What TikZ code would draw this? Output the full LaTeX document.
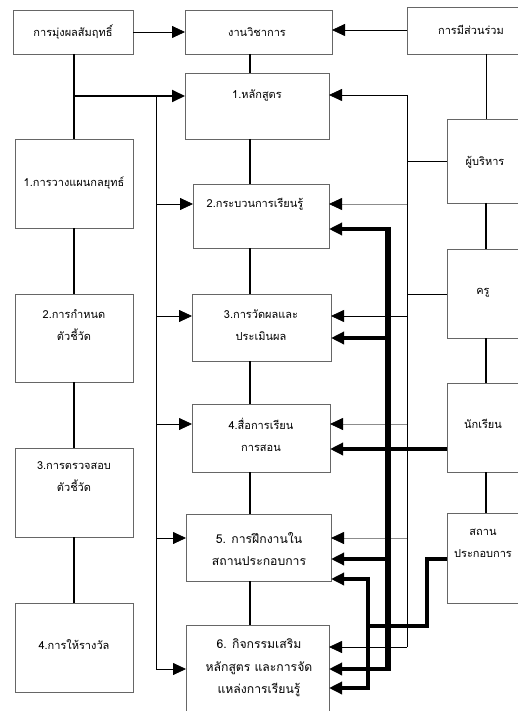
\documentclass[tikz,border=0pt]{standalone}
\usepackage{fontspec}
\newfontfamily\thaifont[Script=Thai]{Loma}
\usetikzlibrary{arrows.meta}
\begin{document}
\begin{tikzpicture}[x=1pt,y=-1pt,
  box/.style={draw=black!60, line width=0.8pt, anchor=north west, inner sep=0pt, outer sep=0pt},
  txt/.style={font=\thaifont\fontsize{11}{22}\selectfont, align=center, inner sep=0pt},
  bigtxt/.style={font=\thaifont\fontsize{12.2}{22.5}\selectfont, align=center, inner sep=0pt},
  tip/.style={-{Triangle[length=13pt,width=12pt,color=black]}},
  thinln/.style={line width=0.8pt},
  grayln/.style={line width=0.8pt, draw=black!45},
  midln/.style={line width=1.8pt},
  busln/.style={line width=5.5pt},
  heavyln/.style={line width=4.5pt},
]
\useasboundingbox (0,0) rectangle (518,711);
\clip (0,0) rectangle (518,711);

% boxes
\node[box, minimum width=120pt, minimum height=44pt] (A) at (13,10) {};
\node[box, minimum width=147pt, minimum height=44pt] (B) at (185,10) {};
\node[box, minimum width=128pt, minimum height=47pt] (C) at (407,7) {};
\node[box, minimum width=118pt, minimum height=89pt] (L1) at (15,139) {};
\node[box, minimum width=118pt, minimum height=88pt] (L2) at (15,294) {};
\node[box, minimum width=118pt, minimum height=89pt] (L3) at (15,448) {};
\node[box, minimum width=118pt, minimum height=89pt] (L4) at (15,603) {};
\node[box, minimum width=144pt, minimum height=66pt] (M1) at (185,73) {};
\node[box, minimum width=136pt, minimum height=64pt] (M2) at (193,184) {};
\node[box, minimum width=139pt, minimum height=67pt] (M3) at (192,294) {};
\node[box, minimum width=138pt, minimum height=68pt] (M4) at (192,404) {};
\node[box, minimum width=145pt, minimum height=67pt] (M5) at (186,514) {};
\node[box, minimum width=143pt, minimum height=100pt] (M6) at (186,625) {};
\node[box, minimum width=80pt, minimum height=84pt] (R1) at (447,119) {};
\node[box, minimum width=80pt, minimum height=89pt] (R2) at (447,249) {};
\node[box, minimum width=80pt, minimum height=89pt] (R3) at (447,383) {};
\node[box, minimum width=80pt, minimum height=90pt] (R4) at (447,513) {};

% texts
\node[txt] (tA) at (73,32) {การมุ่งผลสัมฤทธิ์};
\node[txt] (tB) at (257,32) {งานวิชาการ};
\node[txt] (tC) at (471,30) {การมีส่วนร่วม};
\node[txt] (tL1) at (74,183) {1.การวางแผนกลยุทธ์};
\node[txt] (tL2) at (74,325) {2.การกำหนด\\ตัวชี้วัด};
\node[txt] (tL3) at (74,477) {3.การตรวจสอบ\\ตัวชี้วัด};
\node[txt] (tL4) at (74,645) {4.การให้รางวัล};
\node[txt] (tM1) at (257,96) {1.หลักสูตร};
\node[txt] (tM2) at (255,204) {2.กระบวนการเรียนรู้};
\node[txt] (tM3) at (261,325) {3.การวัดผลและ\\ประเมินผล};
\node[txt] (tM4) at (261,435) {4.สื่อการเรียน\\การสอน};
\node[bigtxt] (tM5) at (259,549) {5. การฝึกงานใน\\สถานประกอบการ};
\node[bigtxt] (tM6) at (259,668) {6. กิจกรรมเสริม\\หลักสูตร และการจัด\\แหล่งการเรียนรู้};
\node[txt] (tR1) at (485,162) {ผู้บริหาร};
\node[txt] (tR2) at (483,293) {ครู};
\node[txt] (tR3) at (483,424) {นักเรียน};
\node[txt] (tR4) at (483,543) {สถาน\\ประกอบการ};

% helper coordinates
\coordinate (lx) at (74,0);
\coordinate (vx) at (250,0);
\coordinate (rx) at (486,0);
\coordinate (lb) at (156,0);
\coordinate (tb) at (407,0);
\coordinate (hb) at (388,0);
\coordinate (sb) at (368,0);

% top arrows
\draw[thinln,tip] (A.east |- 0,32) -- (B.west |- 0,32);
\draw[thinln,tip] (C.west |- 0,30) -- (B.east |- 0,30);

% left column chain
\draw[midln] (A.south -| lx) -- (L1.north -| lx);
\draw[midln] (L1.south -| lx) -- (L2.north -| lx);
\draw[midln] (L2.south -| lx) -- (L3.north -| lx);
\draw[midln] (L3.south -| lx) -- (L4.north -| lx);
\coordinate (j1) at (74,96);
\draw[midln,tip] (j1) -- (M1.west |- j1);

% left bus
\draw[thinln] (lb |- 0,96) -- (lb |- 0,669);
\draw[thinln,tip] (lb |- 0,204) -- (M2.west |- 0,204);
\draw[thinln,tip] (lb |- 0,316) -- (M3.west |- 0,316);
\draw[thinln,tip] (lb |- 0,424) -- (M4.west |- 0,424);
\draw[thinln,tip] (lb |- 0,538) -- (M5.west |- 0,538);
\draw[thinln,tip] (lb |- 0,669) -- (M6.west |- 0,669);

% middle chain
\draw[midln] (B.south -| vx) -- (M1.north -| vx);
\draw[midln] (M1.south -| vx) -- (M2.north -| vx);
\draw[midln] (M2.south -| vx) -- (M3.north -| vx);
\draw[midln] (M3.south -| vx) -- (M4.north -| vx);
\draw[midln] (M4.south -| vx) -- (M5.north -| vx);
\draw[midln] (M5.south -| vx) -- (M6.north -| vx);

% right chain
\draw[thinln] (C.south -| rx) -- (R1.north -| rx);
\draw[midln] (R1.south -| rx) -- (R2.north -| rx);
\draw[midln] (R2.south -| rx) -- (R3.north -| rx);
\draw[midln] (R3.south -| rx) -- (R4.north -| rx);

% thin right bus
\draw[thinln] (tb |- 0,95) -- (tb |- 0,647);
\draw[thinln,tip] (tb |- 0,95) -- (M1.east |- 0,95);
\draw[thinln] (tb |- 0,161) -- (R1.west |- 0,161);
\draw[grayln,tip] (tb |- 0,204) -- (M2.east |- 0,204);
\draw[thinln] (tb |- 0,294) -- (R2.west |- 0,294);
\draw[thinln,tip] (tb |- 0,316) -- (M3.east |- 0,316);
\draw[grayln,tip] (tb |- 0,424) -- (M4.east |- 0,424);
\draw[grayln,tip] (tb |- 0,538) -- (M5.east |- 0,538);
\draw[thinln,tip] (tb |- 0,647) -- (M6.east |- 0,647);

% thick bus
\draw[busln] (hb |- 0,226.75) -- (hb |- 0,671.25);
\draw[heavyln,tip] (hb |- 0,229) -- (M2.east |- 0,229);
\draw[heavyln,tip] (hb |- 0,338) -- (M3.east |- 0,338);
\draw[heavyln,tip] (R3.west |- 0,449) -- (M4.east |- 0,449);
\draw[heavyln,tip] (hb |- 0,559) -- (M5.east |- 0,559);
\draw[heavyln,tip] (hb |- 0,669) -- (M6.east |- 0,669);

% workplace route
\draw[heavyln, line join=miter] (R4.west |- 0,559) -- (427,559) -- (427,626) -- (sb |- 0,626);
\draw[heavyln] (sb |- 0,576.75) -- (sb |- 0,690.25);
\draw[heavyln,tip] (sb |- 0,579) -- (M5.east |- 0,579);
\draw[heavyln,tip] (sb |- 0,688) -- (M6.east |- 0,688);
\end{tikzpicture}
\end{document}
